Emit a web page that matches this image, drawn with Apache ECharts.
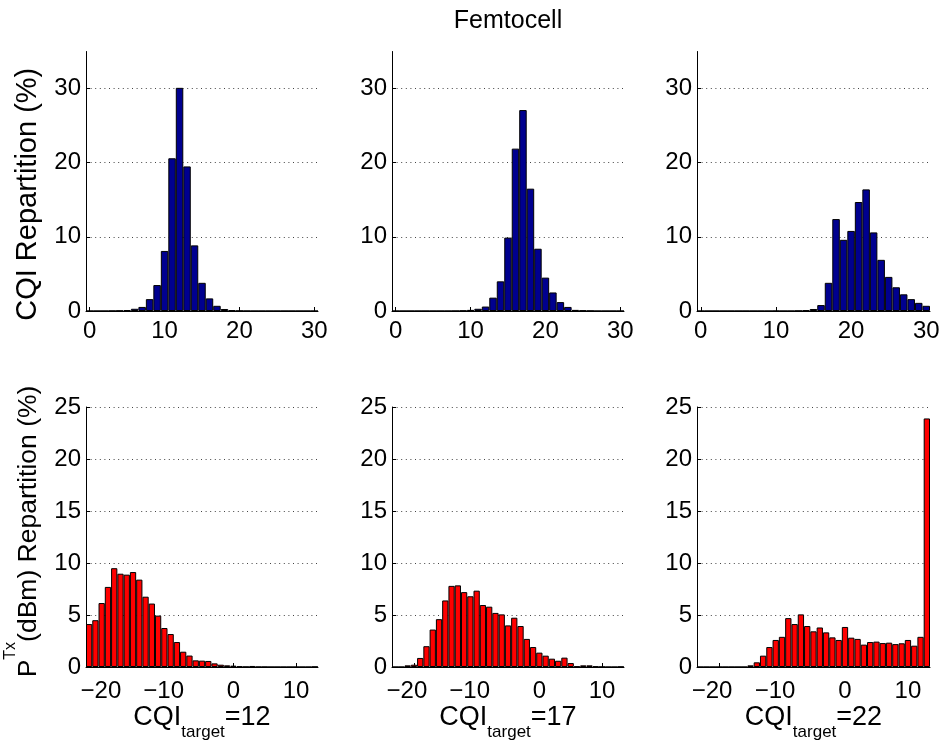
<!DOCTYPE html>
<html>
<head>
<meta charset="utf-8">
<script src="https://cdn.jsdelivr.net/npm/echarts@6/dist/echarts.min.js"></script>
<style>
  html, body { margin: 0; padding: 0; background: #fff; }
  #main { width: 942px; height: 742px; }
</style>
</head>
<body>
<div id="main"></div>
<script>
// histogram bins
const cqiBins = [0, 1, 2, 3, 4, 5, 6, 7, 8, 9, 10, 11, 12, 13, 14, 15, 16, 17, 18, 19, 20,
  21, 22, 23, 24, 25, 26, 27, 28, 29, 30];
const powerBins = [-23, -22, -21, -20, -19, -18, -17, -16, -15, -14, -13, -12, -11, -10, -9,
  -8, -7, -6, -5, -4, -3, -2, -1, 0, 1, 2, 3, 4, 5, 6, 7, 8, 9, 10, 11, 12, 13];

// CQI repartition (%) for CQI target 12 / 17 / 22
const cqiShare12 = [0, 0, 0, 0.02, 0.05, 0.13, 0.3, 0.55, 1.6, 3.5, 8.1, 20.6, 30.1, 19.5, 8.85,
  3.8, 1.7, 0.7, 0.27, 0.1, 0.03, 0.01, 0, 0, 0, 0, 0, 0, 0, 0, 0];
const cqiShare17 = [0, 0, 0, 0, 0, 0, 0, 0, 0.01, 0.05, 0.15, 0.3, 0.6, 1.8, 4.0, 9.9, 21.9,
  27.1, 16.5, 8.4, 4.5, 2.5, 1.2, 0.55, 0.15, 0.07, 0.03, 0, 0, 0, 0];
const cqiShare22 = [0, 0, 0, 0, 0, 0, 0, 0, 0, 0, 0.01, 0, 0, 0.03, 0.1, 0.27, 0.8, 3.8, 12.4,
  9.6, 10.8, 14.7, 16.4, 10.6, 6.9, 4.6, 3.2, 2.25, 1.6, 1.1, 0.7];

// transmit power repartition (%) for CQI target 12 / 17 / 22
const powerShare12 = [4.13, 4.5, 6.15, 7.7, 9.5, 8.97, 8.88, 9.13, 8.4, 6.76, 6.1, 4.94, 3.75,
  3.17, 2.4, 1.47, 1.1, 0.64, 0.61, 0.58, 0.35, 0.22, 0.16, 0.13, 0.06, 0.02, 0.1, 0.01, 0.01,
  0, 0, 0, 0, 0, 0, 0, 0.03];
const powerShare17 = [0, 0, 0.16, 0.22, 0.87, 2.0, 3.6, 4.6, 6.4, 7.8, 7.85, 7.2, 6.8, 7.34,
  5.96, 5.8, 5.2, 5.06, 4.0, 4.74, 3.94, 2.7, 1.92, 1.38, 1.09, 0.8, 0.6, 0.9, 0.38, 0.06, 0.16,
  0.16, 0.06, 0.02, 0, 0, 0.03];
const powerShare22 = [0, 0, 0, 0, 0, 0, 0, 0, 0.16, 0.45, 1.09, 1.92, 2.6, 2.9, 4.7, 4.13, 5.06,
  3.94, 3.43, 3.8, 3.33, 2.85, 2.6, 3.85, 2.82, 2.7, 2.15, 2.4, 2.44, 2.3, 2.34, 2.2, 2.28, 2.6,
  2.05, 2.9, 23.9];

const cqiTargets = [12, 17, 22];
const cqiTicks = [0, 10, 20, 30];
const powerTicks = [-20, -10, 0, 10];

const FONT = "'Liberation Sans', Arial, Helvetica, sans-serif";
const BLUE = "#00008f";
const RED = "#ff0000";

const colLeft = [86, 392, 697];
const colWidth = [232, 232, 233];

const chart = echarts.init(document.getElementById("main"));

const grids = [];
const xAxes = [];
const yAxes = [];
const series = [];

// minus sign hangs out to the left, digits stay centred on the tick
function tickText(v) {
  const n = Number(v);
  return n < 0 ? "{n|\u2212" + -n + "}" : String(n);
}

function addPanel(row, col, bins, values, ticks, color) {
  const idx = grids.length;
  const top = row === 0;
  grids.push({
    left: colLeft[col],
    width: colWidth[col],
    top: top ? 51.5 : 407,
    height: top ? 259.5 : 260,
    outerBoundsMode: "none",
  });
  const showTick = (i, v) => ticks.indexOf(Number(v)) >= 0;
  const xAxis = {
    type: "category",
    gridIndex: idx,
    data: bins,
    boundaryGap: true,
    axisLine: { show: true, lineStyle: { color: "#000", width: 1 } },
    axisTick: {
      show: true,
      inside: true,
      length: 4,
      alignWithLabel: true,
      interval: showTick,
      lineStyle: { color: "#000" },
    },
    axisLabel: {
      interval: showTick,
      formatter: tickText,
      margin: top ? 8 : 12,
      fontSize: 24,
      fontFamily: FONT,
      color: "#000",
      rich: {
        n: { fontSize: 24, fontFamily: FONT, color: "#000", padding: [0, 14, 0, 0] },
      },
    },
    splitLine: { show: false },
  };
  if (!top) {
    xAxis.name = "{m|CQI}{s|target}{m|=" + cqiTargets[col] + "}";
    xAxis.nameLocation = "middle";
    xAxis.nameGap = 34;
    xAxis.nameTextStyle = {
      rich: {
        m: { fontSize: 27, fontFamily: FONT, color: "#000", verticalAlign: "top" },
        s: {
          fontSize: 17,
          fontFamily: FONT,
          color: "#000",
          verticalAlign: "bottom",
          padding: [20, 0, 0, 0],
        },
      },
    };
  }
  xAxes.push(xAxis);

  const yAxis = {
    type: "value",
    gridIndex: idx,
    min: 0,
    max: top ? 35 : 25,
    interval: top ? 10 : 5,
    axisLine: { show: true, lineStyle: { color: "#000", width: 1 } },
    axisTick: { show: true, inside: true, length: 4, lineStyle: { color: "#000" } },
    axisLabel: {
      showMaxLabel: !top,
      margin: 5,
      padding: [9, 0, 0, 0],
      fontSize: 24,
      fontFamily: FONT,
      color: "#000",
    },
    splitLine: {
      show: true,
      showMinLine: false,
      showMaxLine: !top,
      lineStyle: { color: "#444", width: 1, type: [1, 3.6] },
    },
  };
  if (col === 0) {
    yAxis.nameLocation = "middle";
    yAxis.nameRotate = 90;
    yAxis.nameGap = 44;
    if (top) {
      yAxis.name = "CQI Repartition (%)";
      yAxis.nameTextStyle = {
        fontSize: 29,
        fontFamily: FONT,
        color: "#000",
        padding: [0, 26, 0, 0],
      };
    } else {
      yAxis.name = "{p|P}{s|Tx}{p|(dBm) Repartition (%)}";
      yAxis.nameTextStyle = {
        padding: [0, 0, 0, 11],
        rich: {
          p: { fontSize: 26.5, fontFamily: FONT, color: "#000", verticalAlign: "bottom" },
          s: {
            fontSize: 16,
            fontFamily: FONT,
            color: "#000",
            verticalAlign: "top",
            padding: [0, 0, 23, 0],
          },
        },
      };
    }
  }
  yAxes.push(yAxis);

  series.push({
    type: "bar",
    xAxisIndex: idx,
    yAxisIndex: idx,
    data: values,
    barWidth: "100%",
    barCategoryGap: 0,
    itemStyle: { color: color, borderColor: "#000", borderWidth: 1 },
    emphasis: { disabled: true },
    silent: true,
  });
}

const cqiSets = [cqiShare12, cqiShare17, cqiShare22];
const powerSets = [powerShare12, powerShare17, powerShare22];
cqiSets.forEach((vals, c) => addPanel(0, c, cqiBins, vals, cqiTicks, BLUE));
powerSets.forEach((vals, c) => addPanel(1, c, powerBins, vals, powerTicks, RED));

chart.setOption({
  animation: false,
  backgroundColor: "#fff",
  title: {
    text: "Femtocell",
    left: 508,
    top: 9,
    padding: 0,
    textAlign: "center",
    textStyle: { fontSize: 25, fontWeight: "normal", fontFamily: FONT, color: "#000" },
  },
  grid: grids,
  xAxis: xAxes,
  yAxis: yAxes,
  series: series,
});
</script>
</body>
</html>
